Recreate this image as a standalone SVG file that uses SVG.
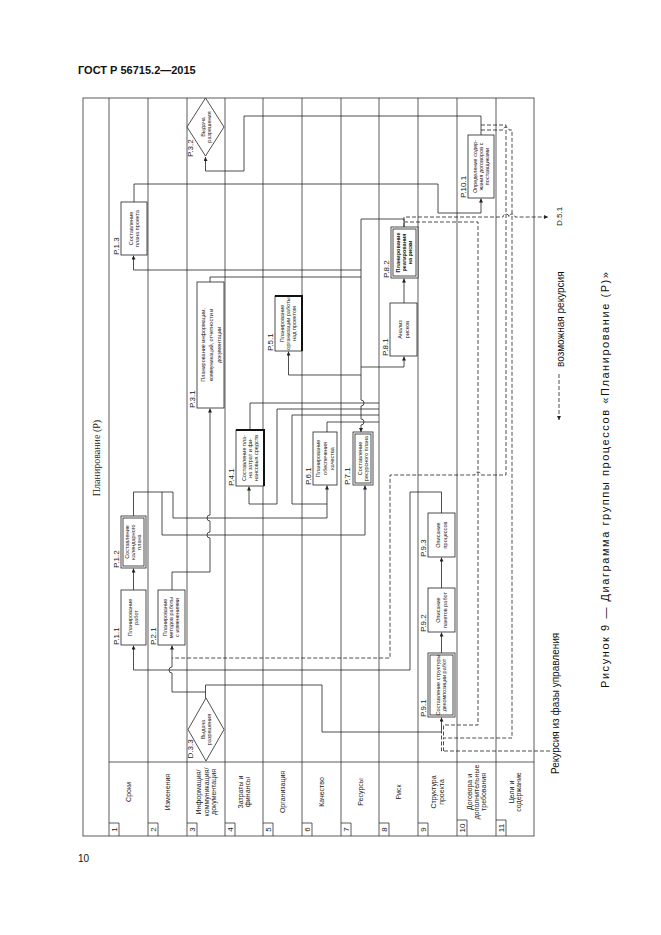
<svg xmlns="http://www.w3.org/2000/svg" width="661" height="935" viewBox="0 0 661 935">
<defs>
<marker id="ah" viewBox="0 0 6 6" refX="6" refY="3" markerWidth="4" markerHeight="4" markerUnits="userSpaceOnUse" orient="auto"><path d="M0,0 L6,3 L0,6 z" fill="#222"/></marker>
<style>
.ln{stroke:#333;stroke-width:0.8;fill:none}
.box{fill:#fff;stroke:#222;stroke-width:0.8}
.thk{stroke:#111;stroke-width:2;fill:none}
.c{fill:none;stroke:#222;stroke-width:0.8}
.d{fill:none;stroke:#222;stroke-width:0.8;stroke-dasharray:4 2}
.nt{font-family:"Liberation Sans",Arial,sans-serif;font-size:5.5px;fill:#222;text-anchor:middle}
.lb{font-family:"Liberation Sans",Arial,sans-serif;font-size:8px;fill:#222}
.la{font-family:"Liberation Sans",Arial,sans-serif;font-size:7px;fill:#222;text-anchor:middle}
.num{font-family:"Liberation Sans",Arial,sans-serif;font-size:8px;fill:#222;text-anchor:middle}
.tx{font-family:"Liberation Sans",Arial,sans-serif;fill:#111}
</style>
</defs>
<rect width="661" height="935" fill="#fff"/>
<text class="tx" x="78" y="74" font-size="11" font-weight="bold">ГОСТ Р 56715.2—2015</text>
<text class="tx" x="78" y="862" font-size="10">10</text>

<g id="frame">
<rect class="ln" x="83" y="98" width="451" height="738"/>
<path class="ln" d="M109,98V836M148,98V836M187,98V836M225,98V836M263,98V836M302,98V836M341,98V836M379,98V836M418,98V836M457,98V836M496,98V836M109,762H534"/>
<text transform="translate(100,458) rotate(-90)" font-family="Liberation Serif,serif" font-size="10" text-anchor="middle" fill="#222">Планирование (P)</text>
</g>

<g id="lanes">
<g transform="translate(128.5,792) rotate(-90)"><text class="la" y="2.5">Сроки</text></g>
<g transform="translate(167.5,792) rotate(-90)"><text class="la" y="2.5">Изменения</text></g>
<g transform="translate(206,792) rotate(-90)"><text class="la" y="-5"><tspan x="0">Информация/</tspan><tspan x="0" dy="7.5">коммуникация/</tspan><tspan x="0" dy="7.5">документация</tspan></text></g>
<g transform="translate(244,792) rotate(-90)"><text class="la" y="-1.2"><tspan x="0">Затраты и</tspan><tspan x="0" dy="7.5">финансы</tspan></text></g>
<g transform="translate(282.5,792) rotate(-90)"><text class="la" y="2.5">Организация</text></g>
<g transform="translate(321.5,792) rotate(-90)"><text class="la" y="2.5">Качество</text></g>
<g transform="translate(360,792) rotate(-90)"><text class="la" y="2.5">Ресурсы</text></g>
<g transform="translate(398.5,792) rotate(-90)"><text class="la" y="2.5">Риск</text></g>
<g transform="translate(437.5,792) rotate(-90)"><text class="la" y="-1.2"><tspan x="0">Структура</tspan><tspan x="0" dy="7.5">проекта</tspan></text></g>
<g transform="translate(476.5,792) rotate(-90)"><text class="la" y="-5" font-size="6.5"><tspan x="0">Договора и</tspan><tspan x="0" dy="7.2">дополнительные</tspan><tspan x="0" dy="7.2">требования</tspan></text></g>
<g transform="translate(515,792) rotate(-90)"><text class="la" y="-1.2"><tspan x="0">Цели и</tspan><tspan x="0" dy="7.5">содержание</tspan></text></g>
<path class="ln" d="M109,823h10v13M148,823h10v13M187,823h10v13M225,823h10v13M263,823h10v13M302,823h10v13M341,823h10v13M379,823h10v13M418,823h10v13M457,820h10v16M496,820h10v16"/>
<g transform="translate(117,829.5) rotate(-90)"><text class="num">1</text></g>
<g transform="translate(156,829.5) rotate(-90)"><text class="num">2</text></g>
<g transform="translate(195,829.5) rotate(-90)"><text class="num">3</text></g>
<g transform="translate(233,829.5) rotate(-90)"><text class="num">4</text></g>
<g transform="translate(271,829.5) rotate(-90)"><text class="num">5</text></g>
<g transform="translate(310,829.5) rotate(-90)"><text class="num">6</text></g>
<g transform="translate(349,829.5) rotate(-90)"><text class="num">7</text></g>
<g transform="translate(387,829.5) rotate(-90)"><text class="num">8</text></g>
<g transform="translate(426,829.5) rotate(-90)"><text class="num">9</text></g>
<g transform="translate(465,828) rotate(-90)"><text class="num">10</text></g>
<g transform="translate(504,828) rotate(-90)"><text class="num">11</text></g>
</g>

<g id="connectors">
<path class="c" marker-end="url(#ah)" d="M481,135V116H244V171H205.5V157"/>
<path class="c" marker-end="url(#ah)" d="M134,202V184H438V213H481V198.5"/>
<path class="c" marker-end="url(#ah)" d="M133.5,590V568.5"/>
<path class="c" marker-end="url(#ah)" d="M172,590V572H210V538a3,3 0 0 1 0,-6V521a3,3 0 0 1 0,-6V408.5"/>
<path class="c" marker-end="url(#ah)" d="M404,303V278.5"/>
<path class="c" marker-end="url(#ah)" d="M441.5,588V557.5"/>
<path class="c" marker-end="url(#ah)" d="M441.5,653V632.5"/>
<path class="c" marker-end="url(#ah)" d="M205.5,698V685H322V732H441.5V717.5"/>
<path class="c" marker-end="url(#ah)" d="M205.5,692H172V673a3,3 0 0 1 0,-6V645.5"/>
<path class="c" marker-end="url(#ah)" d="M441.5,513V492H410V670H133.5V645.5"/>
<path class="d" d="M550,751H441.5V732"/>
<path class="d" marker-end="url(#ah)" d="M404,227V217H503a3,3 0 0 1 6,0H509a3,3 0 0 1 6,0H548"/>
<path class="d" d="M481,125H506V475H481a3,3 0 0 0 -6,0H390V658H172"/>
<path class="d" d="M481,130H503a3,3 0 0 1 6,0H512V738H443.5V751"/>
<path class="d" d="M404,222H478V725H443.5V738"/>
<path class="c" marker-end="url(#ah)" d="M404,227V219H361V400a3,3 0 0 1 0,6V419a3,3 0 0 1 0,6V432"/>
<path class="c" marker-end="url(#ah)" d="M361,375H288.5V351.5"/>
<path class="c" marker-end="url(#ah)" d="M361,367H404V356.5"/>
<path class="c" marker-end="url(#ah)" d="M361,270H133.5V255.5"/>
<path class="c" d="M210,282V277H361"/>
<path class="c" d="M250,430V403H379"/>
<path class="c" marker-end="url(#ah)" d="M379,409H277V504H249V486.5"/>
<path class="c" marker-end="url(#ah)" d="M379,415H292V504H327V485.5"/>
<path class="c" d="M327,432V422H379"/>
<path class="c" d="M133.5,516V492H173V518H327V504"/>
<path class="c" marker-end="url(#ah)" d="M162,492V535H365V485.5"/>
</g>

<g id="P11" transform="translate(133.5,617.5) rotate(-90)"><rect class="box" x="-27.5" y="-12.5" width="55" height="25"/><text class="nt" y="-1.2"><tspan x="0">Планирование</tspan><tspan x="0" dy="6">работ</tspan></text><text class="lb" x="-27.5" y="-15">P.1.1</text></g>
<g id="P12" transform="translate(133.5,542) rotate(-90)"><rect class="box" x="-26" y="-12.5" width="52" height="25"/><rect class="box" x="-24" y="-10.5" width="48" height="21"/><text class="nt" y="-4.2" font-size="5"><tspan x="0">Составление</tspan><tspan x="0" dy="5.7">календарного</tspan><tspan x="0" dy="5.7">плана</tspan></text><text class="lb" x="-26" y="-15">P.1.2</text></g>
<g id="P13" transform="translate(134,228.5) rotate(-90)"><rect class="box" x="-26.5" y="-13" width="53" height="26"/><text class="nt" y="-1.2"><tspan x="0">Составление</tspan><tspan x="0" dy="6">плана проекта</tspan></text><text class="lb" x="-26.5" y="-15.5">P.1.3</text></g>
<g id="P21" transform="translate(171.5,617.5) rotate(-90)"><rect class="box" x="-27.5" y="-13.5" width="55" height="27"/><text class="nt" y="-4.2" font-size="5.3"><tspan x="0">Планирование</tspan><tspan x="0" dy="6">методов работы</tspan><tspan x="0" dy="6">с изменениями</tspan></text><text class="lb" x="-27.5" y="-16">P.2.1</text></g>
<g id="P31" transform="translate(210.5,345) rotate(-90)"><rect class="box" x="-63" y="-13.5" width="126" height="27"/><text class="nt" y="-5.5" font-size="7"><tspan x="0">Планирование информации,</tspan><tspan x="0" dy="8">коммуникаций, отчетности и</tspan><tspan x="0" dy="8">документации</tspan></text><text class="lb" x="-63" y="-16">P.3.1</text></g>
<g id="P32" transform="translate(205.5,127) rotate(-90)"><path class="box" d="M29,0L0,18.5L-29,0L0,-18.5Z"/><text class="nt" y="-1" font-size="5"><tspan x="0">Выдача</tspan><tspan x="0" dy="6">разрешения</tspan></text><text class="lb" x="-30" y="-13">P.3.2</text></g>
<g id="D33" transform="translate(206,729.5) rotate(-90)"><path class="box" d="M31.5,0L0,18L-31.5,0L0,-18Z"/><text class="nt" y="-1" font-size="5"><tspan x="0">Выдача</tspan><tspan x="0" dy="6">разрешения</tspan></text><text class="lb" x="-29" y="-13">D.3.3</text></g>
<g id="P41" transform="translate(250,458) rotate(-90)"><rect class="box" x="-28" y="-14" width="56" height="28"/><path class="thk" d="M28,-14V14H-28"/><text class="nt" y="-4.5"><tspan x="0">Составление пла-</tspan><tspan x="0" dy="6.3">на затрат и фи-</tspan><tspan x="0" dy="6.3">нансовых средств</tspan></text><text class="lb" x="-28" y="-16.5">P.4.1</text></g>
<g id="P51" transform="translate(288.5,323.5) rotate(-90)"><rect class="box" x="-27.5" y="-13.5" width="55" height="27"/><path class="thk" d="M27.5,-13.5V13.5H-27.5"/><text class="nt" y="-4.2" font-size="5"><tspan x="0">Планирование</tspan><tspan x="0" dy="6">организации работы</tspan><tspan x="0" dy="6">над проектом</tspan></text><text class="lb" x="-27.5" y="-16">P.5.1</text></g>
<g id="P61" transform="translate(325,458.5) rotate(-90)"><rect class="box" x="-26.5" y="-12" width="53" height="24"/><text class="nt" y="-4.8" font-size="6.3"><tspan x="0">Планирование</tspan><tspan x="0" dy="6.8">обеспечения</tspan><tspan x="0" dy="6.8">качества</tspan></text><text class="lb" x="-26.5" y="-14.5">P.6.1</text></g>
<g id="P71" transform="translate(363,458.5) rotate(-90)"><rect class="box" x="-26.5" y="-10" width="53" height="20"/><rect class="box" x="-24.5" y="-8" width="49" height="16"/><text class="nt" y="-1.2" font-size="5.2"><tspan x="0">Составление</tspan><tspan x="0" dy="6">ресурсного плана</tspan></text><text class="lb" x="-26.5" y="-13">P.7.1</text></g>
<g id="P81" transform="translate(403.5,329.5) rotate(-90)"><rect class="box" x="-26.5" y="-13.5" width="53" height="27"/><text class="nt" y="-1.2" font-size="6"><tspan x="0">Анализ</tspan><tspan x="0" dy="6.5">рисков</tspan></text><text class="lb" x="-26.5" y="-16">P.8.1</text></g>
<g id="P82" transform="translate(404.5,252.5) rotate(-90)"><rect class="box" x="-25.5" y="-13.5" width="51" height="27"/><rect class="box" x="-23.5" y="-11.5" width="47" height="23"/><text class="nt" y="-4.2" font-size="5.3" font-weight="bold"><tspan x="0">Планирование</tspan><tspan x="0" dy="6">реагирования</tspan><tspan x="0" dy="6">на риски</tspan></text><text class="lb" x="-25.5" y="-16">P.8.2</text></g>
<g id="P91" transform="translate(441.5,685) rotate(-90)"><rect class="box" x="-32" y="-13.5" width="64" height="27"/><rect class="box" x="-30" y="-11.5" width="60" height="23"/><text class="nt" y="-1.2" font-size="5"><tspan x="0">Составление структуры</tspan><tspan x="0" dy="6">декомпозиции работ</tspan></text><text class="lb" x="-32" y="-16">P.9.1</text></g>
<g id="P92" transform="translate(441.5,610) rotate(-90)"><rect class="box" x="-22" y="-13.5" width="44" height="27"/><text class="nt" y="-1.2"><tspan x="0">Описание</tspan><tspan x="0" dy="6.5">пакетов работ</tspan></text><text class="lb" x="-22" y="-16">P.9.2</text></g>
<g id="P93" transform="translate(441.5,535) rotate(-90)"><rect class="box" x="-22" y="-13.5" width="44" height="27"/><text class="nt" y="-1.2" font-size="6"><tspan x="0">Описание</tspan><tspan x="0" dy="6.5">процессов</tspan></text><text class="lb" x="-22" y="-16">P.9.3</text></g>
<g id="P101" transform="translate(481,166.5) rotate(-90)"><rect class="box" x="-31.5" y="-13" width="63" height="26"/><text class="nt" y="-4.5" font-size="5.6"><tspan x="0">Определение содер-</tspan><tspan x="0" dy="6.3">жания договоров с</tspan><tspan x="0" dy="6.3">поставщиками</tspan></text><text class="lb" x="-31.5" y="-15.5">P.10.1</text></g>

<g id="outside">
<text class="tx" transform="translate(562,226) rotate(-90)" font-size="8">D.5.1</text>
<text class="tx" transform="translate(564,367) rotate(-90)" font-size="10">возможная рекурсия</text>
<path class="d" marker-end="url(#ah)" d="M559,374V420"/>
<text class="tx" transform="translate(559,774) rotate(-90)" font-size="10">Рекурсия из фазы управления</text>
<text class="tx" transform="translate(609,688) rotate(-90)" font-size="11" textLength="416">Рисунок 9 — Диаграмма группы процессов «Планирование (P)»</text>
</g>
</svg>
